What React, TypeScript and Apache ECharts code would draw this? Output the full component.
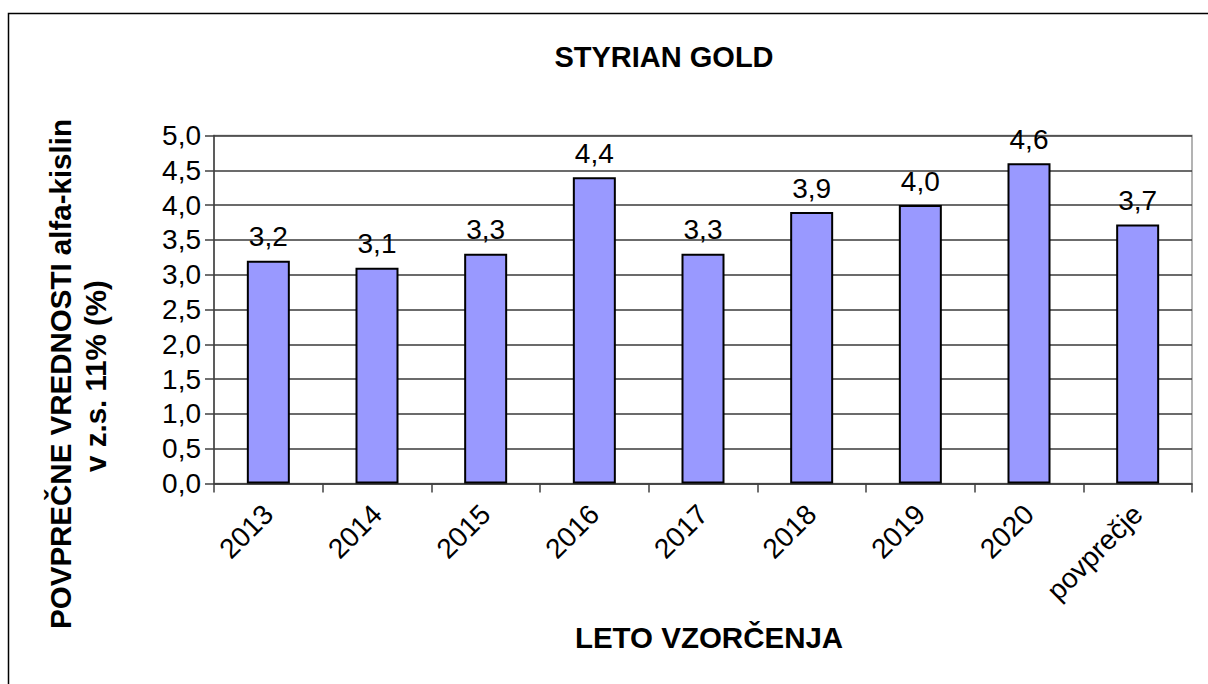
import React, { useEffect, useRef } from "react";
import * as echarts from "echarts";

const categories = ["2013", "2014", "2015", "2016", "2017", "2018", "2019", "2020", "povprečje"];
const values = [3.2, 3.1, 3.3, 4.4, 3.3, 3.9, 4.0, 4.6, 3.72];
const titleText = "STYRIAN GOLD";
const yNameLines = ["POVPREČNE VREDNOSTI alfa-kislin", "v z.s. 11% (%)"];
const xNameText = "LETO VZORČENJA";

const FONT = "'Liberation Sans', Arial, sans-serif";
const fmt = (v: number) => v.toFixed(1).replace(".", ",");

export default function App() {
  const ref = useRef<HTMLDivElement>(null);
  useEffect(() => {
    document.body.style.margin = "0";
    const chart = echarts.init(ref.current!, null, { renderer: "svg" });
    chart.setOption({
      animation: false,
      backgroundColor: "#ffffff",
      title: {
        text: titleText,
        left: 664,
        top: 42,
        textAlign: "center",
        padding: 0,
        textStyle: { fontFamily: FONT, fontSize: 29, fontWeight: "bold", color: "#000" },
      },
      grid: {
        left: 214,
        top: 135.5,
        right: 16,
        bottom: 200.5,
        show: true,
        borderColor: "#9a9a9a",
        borderWidth: 1.5,
        backgroundColor: "transparent",
      },
      xAxis: {
        type: "category",
        data: categories,
        boundaryGap: true,
        axisLine: { lineStyle: { color: "#404040", width: 1.5 } },
        axisTick: { show: true, alignWithLabel: false, inside: false, length: 9, lineStyle: { color: "#404040", width: 1.5 } },
        axisLabel: {
          rotate: 45,
          margin: 26,
          fontFamily: FONT,
          fontSize: 28,
          color: "#000",
          interval: 0,
        },
        splitLine: { show: false },
      },
      yAxis: {
        type: "value",
        min: 0,
        max: 5,
        interval: 0.5,
        axisLine: { show: true, lineStyle: { color: "#404040", width: 1.5 } },
        axisTick: { show: true, length: 9, lineStyle: { color: "#404040", width: 1.5 } },
        axisLabel: {
          formatter: (v: number) => fmt(v),
          margin: 13,
          fontFamily: FONT,
          fontSize: 28,
          color: "#000",
        },
        splitLine: { show: true, lineStyle: { color: "#3a3a3a", width: 1.5 } },
      },
      series: [
        {
          type: "bar",
          data: values,
          barWidth: 43,
          itemStyle: { color: "#9999ff", borderColor: "#000", borderWidth: 2 },
          label: {
            show: true,
            position: "top",
            distance: 10,
            formatter: (p: any) => fmt(p.value),
            fontFamily: FONT,
            fontSize: 28,
            color: "#000",
          },
        },
      ],
      graphic: [
        {
          type: "rect",
          shape: { x: 8.5, y: 13.5, width: 1300, height: 800 },
          style: { fill: "none", stroke: "#000", lineWidth: 1.5 },
          silent: true,
          z: -1,
        },
        {
          type: "text",
          x: 60,
          y: 374,
          rotation: Math.PI / 2,
          style: {
            text: yNameLines[0],
            fontFamily: FONT,
            fontSize: 29.5,
            fontWeight: "bold",
            fill: "#000",
            align: "center",
            verticalAlign: "middle",
          },
        },
        {
          type: "text",
          x: 95,
          y: 376,
          rotation: Math.PI / 2,
          style: {
            text: yNameLines[1],
            fontFamily: FONT,
            fontSize: 29.5,
            fontWeight: "bold",
            fill: "#000",
            align: "center",
            verticalAlign: "middle",
          },
        },
        {
          type: "text",
          x: 709,
          y: 637,
          style: {
            text: xNameText,
            fontFamily: FONT,
            fontSize: 29.5,
            fontWeight: "bold",
            fill: "#000",
            align: "center",
            verticalAlign: "middle",
          },
        },
      ],
    });
    return () => chart.dispose();
  }, []);
  return <div ref={ref} style={{ width: 1208, height: 684 }} />;
}
